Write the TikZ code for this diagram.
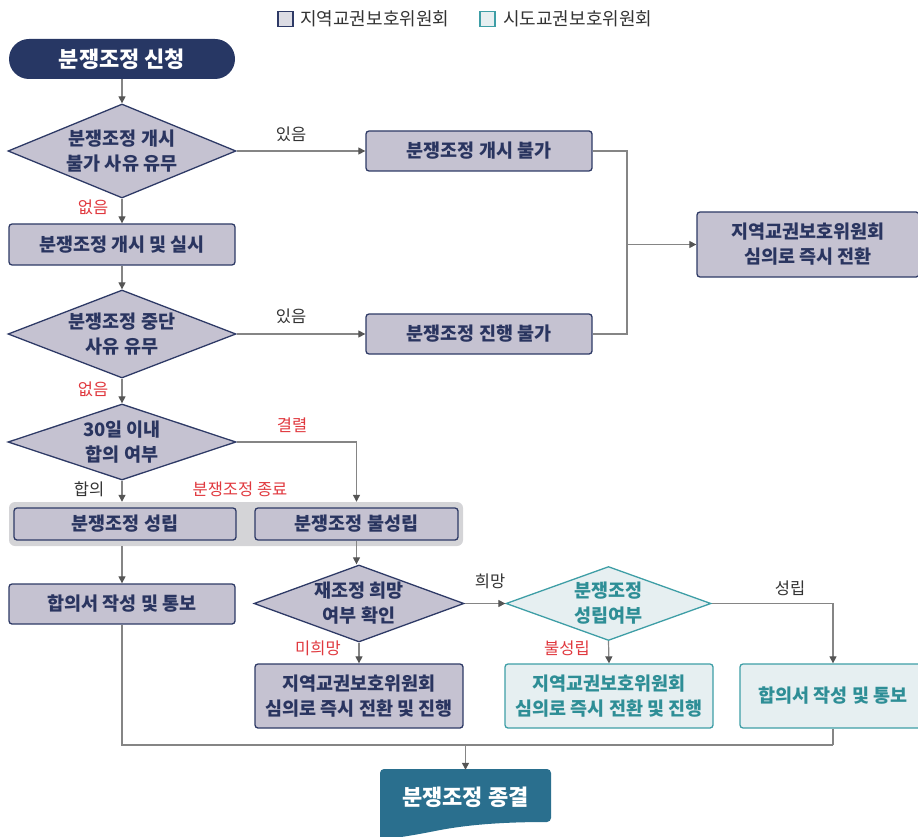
\documentclass[tikz,border=0pt]{standalone}
\usepackage{fontspec}
\setmainfont{Noto Sans CJK KR}
\usetikzlibrary{shapes.geometric,arrows.meta,calc}
\definecolor{navyline}{HTML}{2E3A66}
\definecolor{navyfill}{HTML}{C5C2D1}
\definecolor{navytext}{HTML}{2A3560}
\definecolor{startfill}{HTML}{273764}
\definecolor{endfill}{HTML}{2A6F8E}
\definecolor{tealline}{HTML}{3E9EA6}
\definecolor{tealfill}{HTML}{E6EFF1}
\definecolor{tealtext}{HTML}{2E8E96}
\definecolor{grpfill}{HTML}{D4D4D7}
\definecolor{linegray}{HTML}{858585}
\definecolor{arrowgray}{HTML}{555555}
\definecolor{lblgray}{HTML}{333333}
\definecolor{lred}{HTML}{E0383E}
\definecolor{legfill}{HTML}{DCDCE4}
\begin{document}
\begin{tikzpicture}[x=1pt,y=-1pt,
  bx/.style={font=\fontsize{18.5}{25}\selectfont\bfseries, align=center, inner sep=0pt},
  nbox/.style={bx, draw=navyline, line width=1.3pt, fill=navyfill, rounded corners=3pt, text=navytext},
  tbox/.style={bx, draw=tealline, line width=1.3pt, fill=tealfill, rounded corners=3pt, text=tealtext},
  ndia/.style={bx, diamond, draw=navyline, line width=1.3pt, fill=navyfill, text=navytext},
  tdia/.style={bx, diamond, draw=tealline, line width=1.3pt, fill=tealfill, text=tealtext},
  lbl/.style={font=\fontsize{16.5}{18}\selectfont, text=lblgray, inner sep=0pt},
  rlbl/.style={lbl, text=lred},
  ln/.style={draw=linegray, line width=1.2pt},
  arr/.style={ln, -{Triangle[length=7pt,width=7pt,color=arrowgray]}},
  legtxt/.style={font=\fontsize{18}{20}\selectfont, text=lblgray, anchor=west, inner sep=0pt}
]
\useasboundingbox (0,0) rectangle (918,837);

% legend
\node[draw=navyline, line width=1.3pt, fill=legfill, minimum size=15pt, inner sep=0pt] (leg1) at (285.5,19) {};
\node[legtxt] (leg1t) at (300,19) {지역교권보호위원회};
\node[draw=tealline, line width=1.3pt, fill=tealfill, minimum size=15pt, inner sep=0pt] (leg2) at (487.5,19) {};
\node[legtxt] (leg2t) at (503,19) {시도교권보호위원회};

% left column
\node[bx, fill=startfill, text=white, rounded corners=20pt, minimum width=226pt, minimum height=40pt, font=\fontsize{22}{26}\selectfont\bfseries] (start) at (122,59) {분쟁조정 신청};
\node[ndia, minimum width=228pt, minimum height=94pt, aspect=2.43] (d1) at (122,151) {분쟁조정 개시\\불가 사유 유무};
\node[nbox, minimum width=226pt, minimum height=41pt] (open) at (122,244.5) {분쟁조정 개시 및 실시};
\node[ndia, minimum width=228pt, minimum height=88pt, aspect=2.59] (d2) at (122,334) {분쟁조정 중단\\사유 유무};
\node[ndia, minimum width=228pt, minimum height=76pt, aspect=3.0] (d3) at (122,442) {30일 이내\\합의 여부};

\node[fill=grpfill, rounded corners=6pt, minimum width=454pt, minimum height=44pt, inner sep=0pt] (grp) at (236,524) {};
\node[nbox, minimum width=222pt, minimum height=32pt] (succ) at (125,524) {분쟁조정 성립};
\node[nbox, minimum width=203pt, minimum height=32pt] (fail) at (356.5,524) {분쟁조정 불성립};

\node[nbox, minimum width=226pt, minimum height=40pt] (agree1) at (122,604) {합의서 작성 및 통보};
\node[ndia, minimum width=210pt, minimum height=77pt, aspect=2.73] (d4) at (359,603.5) {재조정 희망\\여부 확인};
\node[tdia, minimum width=205pt, minimum height=74pt, aspect=2.77] (d5) at (608.5,603.5) {분쟁조정\\성립여부};
\node[nbox, minimum width=208pt, minimum height=64pt] (nconv) at (359,696) {지역교권보호위원회\\심의로 즉시 전환 및 진행};
\node[tbox, minimum width=208pt, minimum height=64pt] (tconv) at (609,696) {지역교권보호위원회\\심의로 즉시 전환 및 진행};
\node[tbox, minimum width=186pt, minimum height=64pt] (agree2) at (833,696) {합의서 작성 및 통보};

% right top
\node[nbox, minimum width=226pt, minimum height=40pt] (nostart) at (479,151) {분쟁조정 개시 불가};
\node[nbox, minimum width=226pt, minimum height=40pt] (noproc) at (479,334) {분쟁조정 진행 불가};
\node[nbox, minimum width=222pt, minimum height=65pt] (conv) at (808,244.5) {지역교권보호위원회\\심의로 즉시 전환};

% end node
\fill[endfill] (380,840) [rounded corners=4pt] -- (380,769) -- (551,769) -- (551,822)
  [sharp corners] .. controls (500,822) and (465,825) .. (435,831) .. controls (410,836) and (395,838) .. (380,840) -- cycle;
\node[bx, text=white, minimum width=171pt, minimum height=54pt, font=\fontsize{22}{26}\selectfont\bfseries] (end) at (465.5,797) {분쟁조정 종결};

% connectors
\draw[arr] (start.south) -- (d1.north);
\draw[arr] (d1.south) -- (open.north);
\draw[arr] (open.south) -- (d2.north);
\draw[arr] (d2.south) -- (d3.north);
\draw[arr] (d3.south) -- (d3.south |- grp.north);
\draw[arr] (d3.east) -| (fail.north |- grp.north);
\draw[arr] (d1.east) -- (nostart.west);
\draw[arr] (d2.east) -- (noproc.west);
\coordinate (mj) at (627,244.5);
\draw[ln] (nostart.east) -| (mj);
\draw[ln] (noproc.east) -| (mj);
\draw[arr] (mj) -- (conv.west);
\draw[arr] (agree1.north |- grp.south) -- (agree1.north);
\draw[arr] (fail.south) -- (fail.south |- d4.north);
\draw[arr] (d4.east) -- (d5.west);
\draw[arr] (d4.south) -- (nconv.north);
\draw[arr] (d5.south) -- (tconv.north);
\draw[arr] (d5.east) -| (agree2.north);
\coordinate (bm) at (833,745);
\draw[ln] (agree1.south) |- (bm);
\draw[ln] (agree2.south) -- (bm);
\draw[arr] (end.north |- bm) -- (end.north);

% labels
\node[rlbl] (l1) at (93,207) {없음};
\node[rlbl] (l2) at (93,389) {없음};
\node[lbl] (l3) at (291,134) {있음};
\node[lbl] (l4) at (291,316) {있음};
\node[rlbl] (l5) at (292,425) {결렬};
\node[lbl] (l6) at (89,489) {합의};
\node[rlbl] (l7) at (240,489) {분쟁조정 종료};
\node[lbl] (l8) at (490,581) {희망};
\node[lbl] (l9) at (790,588) {성립};
\node[rlbl] (l10) at (567,648) {불성립};
\node[rlbl] (l11) at (318,648) {미희망};
\end{tikzpicture}
\end{document}
